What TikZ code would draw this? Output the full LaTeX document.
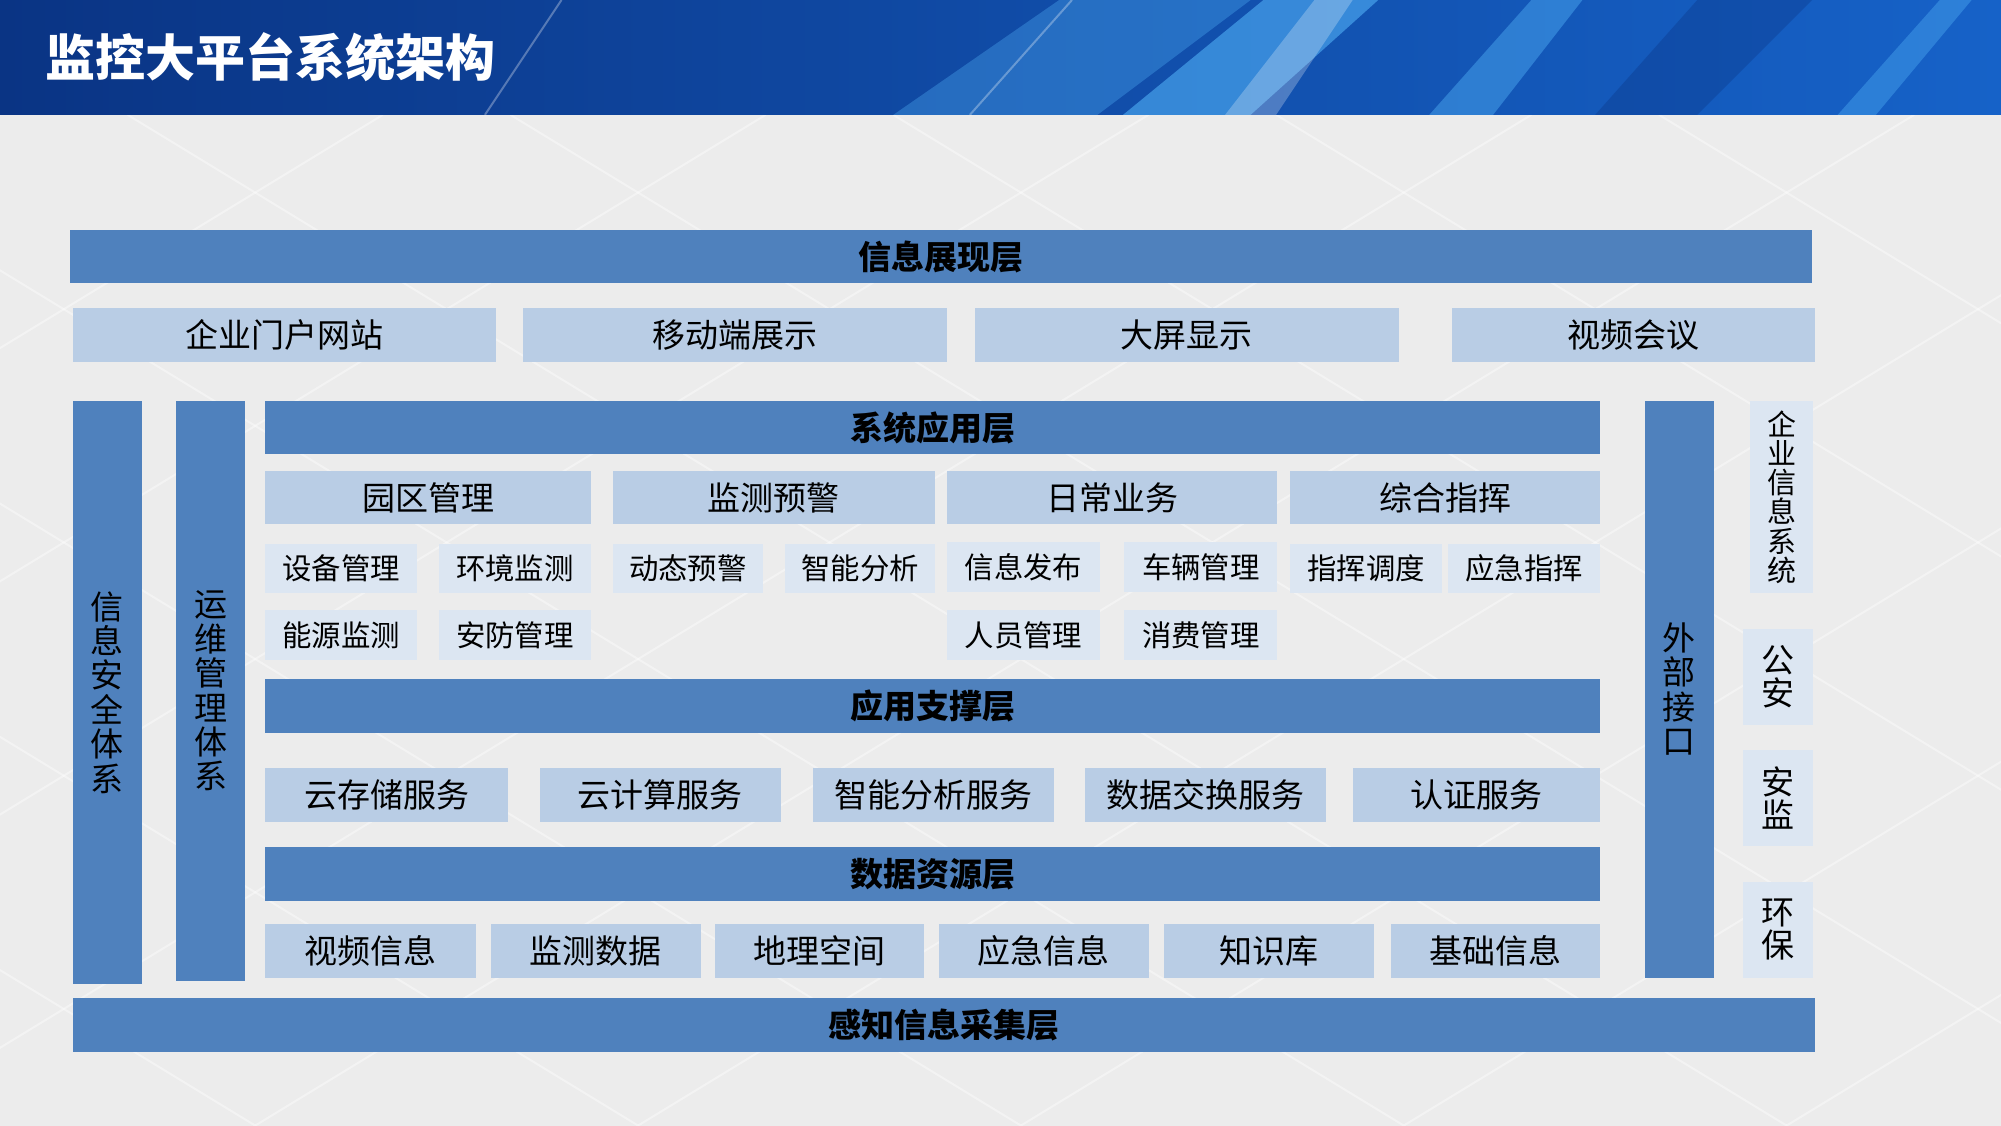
\documentclass[tikz,border=0pt]{standalone}
\usepackage{fontspec}
\setmainfont{Noto Sans CJK SC}
\usetikzlibrary{positioning}

\definecolor{barblue}{RGB}{79,129,189}
\definecolor{midblue}{RGB}{185,205,229}
\definecolor{paleblue}{RGB}{220,230,242}
\definecolor{bggray}{RGB}{236,236,236}
\definecolor{navy}{RGB}{10,52,132}
\definecolor{skyblue}{RGB}{22,98,200}
\definecolor{streak}{RGB}{80,175,245}

% block from its corners: name, style, x1, y1, x2, y2, text
\newcommand{\blk}[7]{%
  \node[#2, minimum width={(#5-#3)*0.638pt}, minimum height={(#6-#4)*0.638pt}]
    (#1) at ({(#3+#5)/2},{(#4+#6)/2}) {#7};}

\begin{document}
\begin{tikzpicture}[
    x = 0.638pt, y = -0.638pt,
    every node/.style = {inner sep=0pt, outer sep=0pt, text=black},
    bar/.style   = {fill=barblue, font=\fontsize{16.5}{18}\selectfont\bfseries},
    mid/.style   = {fill=midblue, font=\fontsize{16.5}{18}\selectfont},
    pale/.style  = {fill=paleblue, font=\fontsize{14.7}{16}\selectfont},
    vbar/.style  = {fill=barblue, align=center, font=\fontsize{16.5}{17.2}\selectfont},
    vpale/.style = {fill=paleblue, align=center, font=\fontsize{16.5}{16.5}\selectfont}
  ]
  \useasboundingbox (0,0) rectangle (1568,882);

  % background
  \fill[bggray] (0,90) rectangle (1568,882);
  \begin{scope}
    \clip (0,90) rectangle (1568,882);
    \foreach \s in {-1400,-1100,...,1600}
      \draw[white, opacity=.4, line width=1] (\s,90) -- ++(1300,792);
    \foreach \s in {0,300,...,3000}
      \draw[white, opacity=.4, line width=1] (\s,90) -- ++(-1300,792);
  \end{scope}

  % title bar
  \shade[left color=navy, right color=skyblue] (0,0) rectangle (1568,90);
  \fill[streak, opacity=.35] (700,90) -- (830,0) -- (980,0) -- (860,90) -- cycle;
  \fill[streak, opacity=.6] (880,90) -- (990,0) -- (1080,0) -- (980,90) -- cycle;
  \fill[white, opacity=.25] (960,90) -- (1030,0) -- (1060,0) -- (1000,90) -- cycle;
  \fill[streak, opacity=.45] (1120,90) -- (1200,0) -- (1240,0) -- (1170,90) -- cycle;
  \fill[navy, opacity=.35] (1250,90) -- (1330,0) -- (1420,0) -- (1330,90) -- cycle;
  \fill[streak, opacity=.4] (1440,90) -- (1520,0) -- (1545,0) -- (1470,90) -- cycle;
  \draw[white, opacity=.3, line width=1] (380,90) -- (440,0);
  \draw[white, opacity=.3, line width=1] (760,90) -- (840,0);
  \node[anchor=west, text=white, font=\fontsize{25}{28}\selectfont\bfseries] (title)
    at (36,45) {监控大平台系统架构};

  % presentation layer
  \blk{show}{bar}{55}{180}{1420}{222}{信息展现层}
  \blk{portal}{mid}{57}{241}{389}{284}{企业门户网站}
  \blk{mobile}{mid}{410}{241}{742}{284}{移动端展示}
  \blk{screen}{mid}{764}{241}{1096}{284}{大屏显示}
  \blk{meeting}{mid}{1138}{241}{1422}{284}{视频会议}

  % side columns
  \blk{sec}{vbar}{57}{314}{111}{771}{信\\息\\安\\全\\体\\系}
  \blk{ops}{vbar}{138}{314}{192}{769}{运\\维\\管\\理\\体\\系}
  \blk{ext}{vbar}{1289}{314}{1343}{766}{外\\部\\接\\口}

  % application layer
  \blk{app}{bar}{208}{314}{1254}{356}{系统应用层}
  \blk{park}{mid}{208}{369}{463}{411}{园区管理}
  \blk{warn}{mid}{480}{369}{733}{411}{监测预警}
  \blk{daily}{mid}{742}{369}{1001}{411}{日常业务}
  \blk{command}{mid}{1011}{369}{1254}{411}{综合指挥}

  \blk{equip}{pale}{208}{426}{327}{465}{设备管理}
  \blk{envmon}{pale}{344}{426}{463}{465}{环境监测}
  \blk{dynwarn}{pale}{480}{426}{598}{465}{动态预警}
  \blk{smart}{pale}{615}{426}{733}{465}{智能分析}
  \blk{publish}{pale}{742}{425}{862}{464}{信息发布}
  \blk{vehicle}{pale}{881}{425}{1001}{464}{车辆管理}
  \blk{dispatch}{pale}{1011}{426}{1130}{465}{指挥调度}
  \blk{emercmd}{pale}{1135}{426}{1254}{465}{应急指挥}

  \blk{energy}{pale}{208}{478}{327}{517}{能源监测}
  \blk{guard}{pale}{344}{478}{463}{517}{安防管理}
  \blk{staff}{pale}{742}{478}{862}{517}{人员管理}
  \blk{pay}{pale}{881}{478}{1001}{517}{消费管理}

  % support layer
  \blk{supp}{bar}{208}{532}{1254}{574}{应用支撑层}
  \blk{cstore}{mid}{208}{602}{398}{644}{云存储服务}
  \blk{ccomp}{mid}{423}{602}{612}{644}{云计算服务}
  \blk{sana}{mid}{637}{602}{826}{644}{智能分析服务}
  \blk{xchg}{mid}{850}{602}{1039}{644}{数据交换服务}
  \blk{auth}{mid}{1060}{602}{1254}{644}{认证服务}

  % data layer
  \blk{data}{bar}{208}{664}{1254}{706}{数据资源层}
  \foreach \a/\b/\t [count=\i] in {208/373/视频信息, 385/549/监测数据,
      560/724/地理空间, 736/900/应急信息, 912/1077/知识库, 1090/1254/基础信息}
    {\blk{res\i}{mid}{\a}{724}{\b}{766}{\t}}

  % sensing layer
  \blk{sense}{bar}{57}{782}{1422}{824}{感知信息采集层}

  % external systems
  \blk{entsys}{vpale, font=\fontsize{14.5}{14.6}\selectfont}{1371}{314}{1421}{465}{企\\业\\信\\息\\系\\统}
  \blk{police}{vpale}{1366}{493}{1421}{568}{公\\安}
  \blk{safety}{vpale}{1366}{588}{1421}{663}{安\\监}
  \blk{envpro}{vpale}{1366}{691}{1421}{766}{环\\保}
\end{tikzpicture}
\end{document}
